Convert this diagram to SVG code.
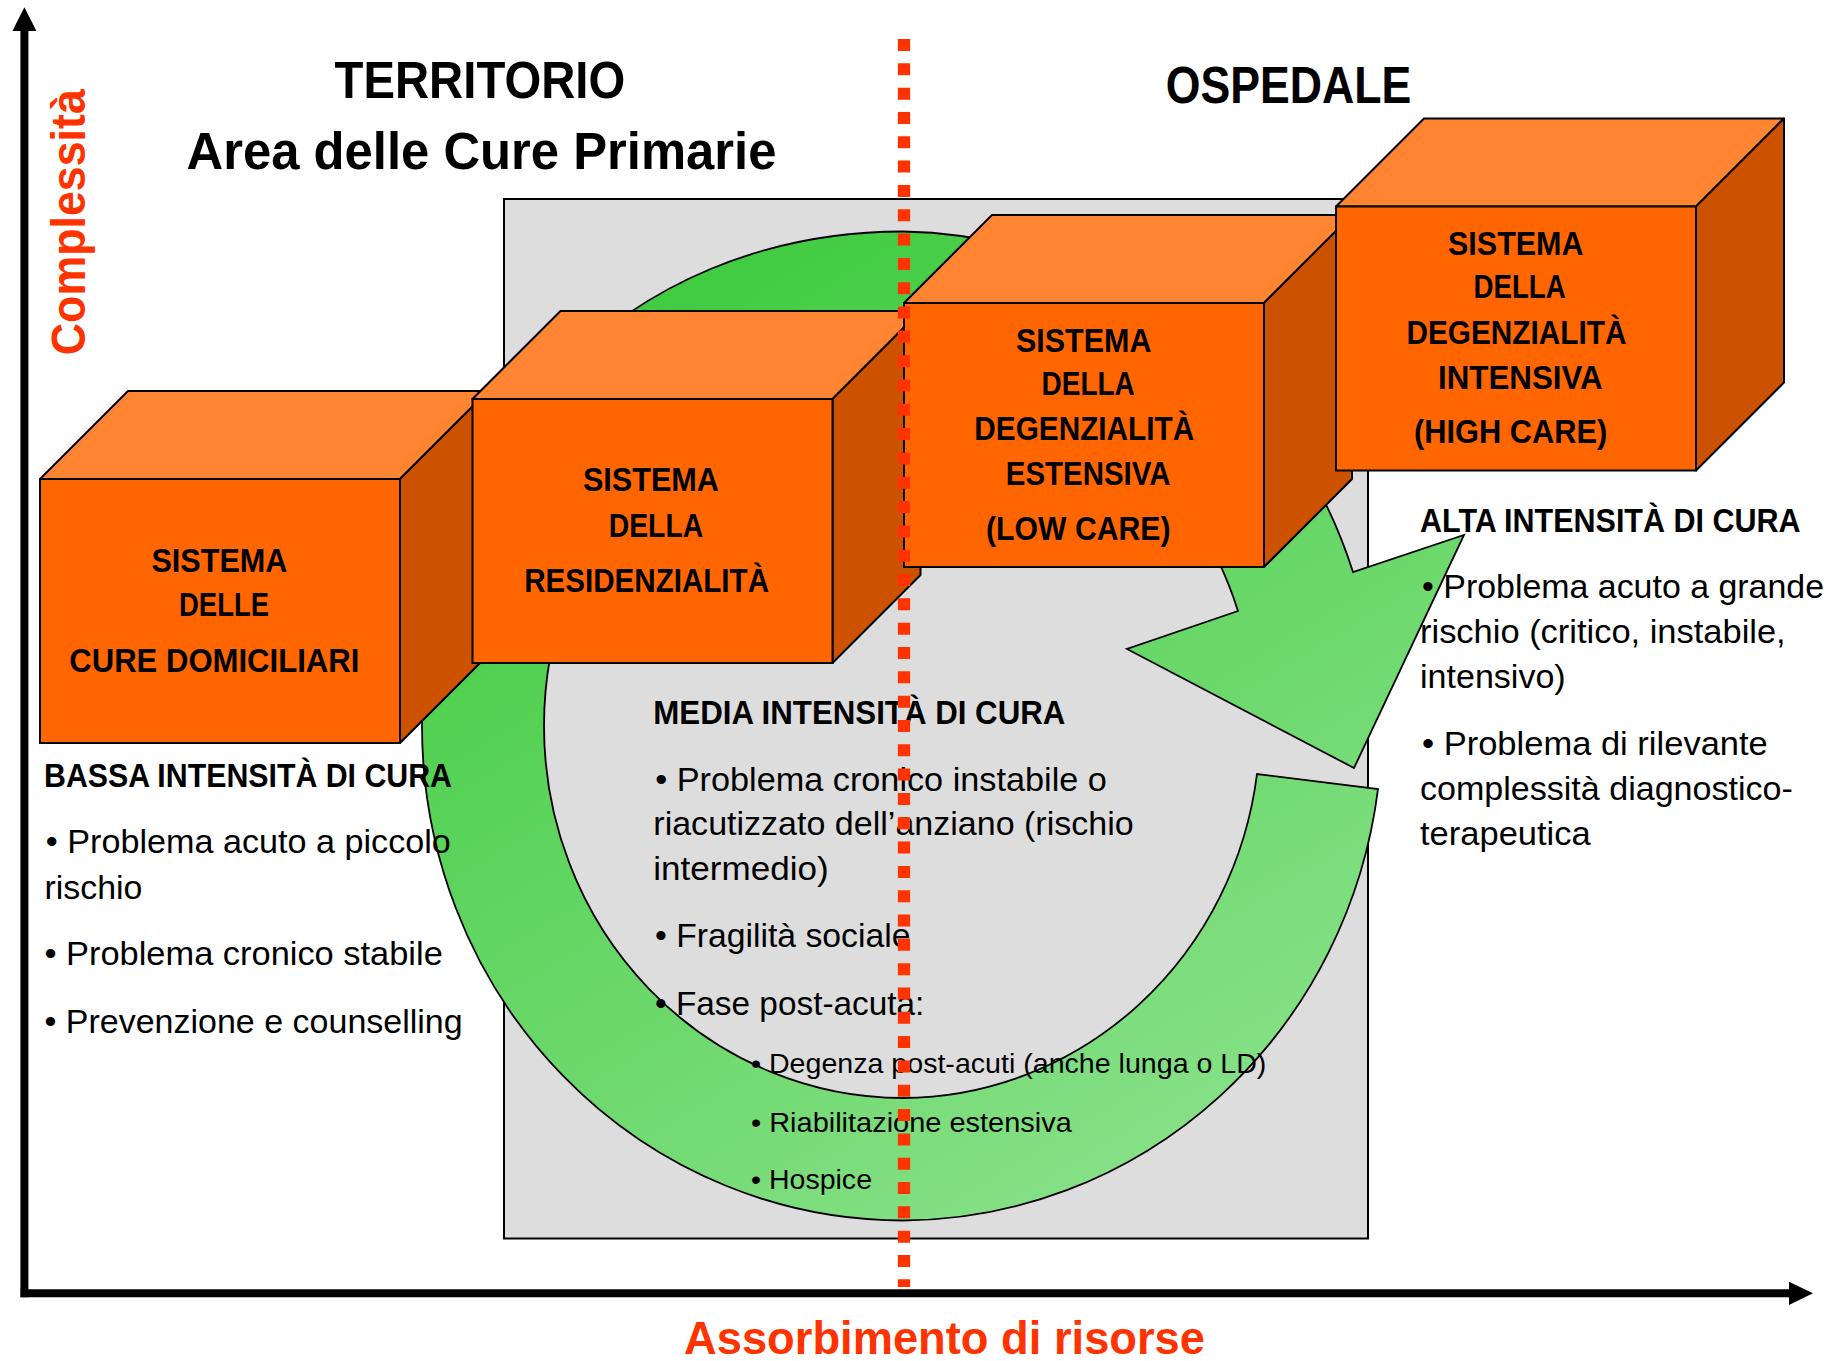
<svg xmlns="http://www.w3.org/2000/svg" width="1832" height="1361" viewBox="0 0 1832 1361">
<defs>
<linearGradient id="gr" gradientUnits="userSpaceOnUse" x1="600" y1="230" x2="1200" y2="1230">
<stop offset="0" stop-color="#3BCA3B"/>
<stop offset="1" stop-color="#8CE28C"/>
</linearGradient>
<style>
text{font-family:'Liberation Sans',Arial,sans-serif;fill:#000}
.b{font-weight:bold;font-size:32.5px}
.r{font-size:32.5px}
.s{font-size:27.5px}
.t{font-weight:bold;font-size:51px}
.red{font-weight:bold;fill:#FF3300}
.front{fill:#FF6600;stroke:#000;stroke-width:2}
.top{fill:#FF8533;stroke:#000;stroke-width:2;stroke-linejoin:round}
.side{fill:#CC5200;stroke:#000;stroke-width:2;stroke-linejoin:round}
.axis{stroke:#000;stroke-width:8;fill:none}
</style>
</defs>
<rect width="1832" height="1361" fill="#fff"/>

<g id="area-box">
<rect x="504" y="199" width="864" height="1039.5" fill="#DDDDDD" stroke="#000" stroke-width="2"/>
</g>

<g id="cycle-arrow">
<path d="M1378,789 A481,494.5 0 0 1 903,1220.5 A481,494.5 0 0 1 422,726 C422,441.7 626.4,231.5 903,231.5 A481,494.5 0 0 1 1353,572 L1464,535 L1354,768 L1127,649 L1238,611 A359,372 0 0 0 903,354 A359,372 0 0 0 544,726 A359,372 0 0 0 903,1098 A359,372 0 0 0 1257,774 Z" fill="url(#gr)" stroke="#000" stroke-width="1.8" stroke-linejoin="miter"/>
</g>

<g id="box-domiciliari">
<polygon class="top" points="40,479 128,391 488,391 400,479"/>
<polygon class="side" points="400,479 488,391 488,655 400,743"/>
<rect class="front" x="40" y="479" width="360" height="264"/>
<text class="b" x="151.4" y="571.7" textLength="136" lengthAdjust="spacingAndGlyphs">SISTEMA</text>
<text class="b" x="179" y="616" textLength="90" lengthAdjust="spacingAndGlyphs">DELLE</text>
<text class="b" x="69.3" y="671.7" textLength="290" lengthAdjust="spacingAndGlyphs">CURE DOMICILIARI</text>
</g>

<g id="box-residenzialita">
<polygon class="top" points="472.5,399 560.5,311 920.5,311 832.5,399"/>
<polygon class="side" points="832.5,399 920.5,311 920.5,575 832.5,663"/>
<rect class="front" x="472.5" y="399" width="360" height="264"/>
<text class="b" x="582.9" y="491" textLength="136" lengthAdjust="spacingAndGlyphs">SISTEMA</text>
<text class="b" x="608.7" y="536.7" textLength="94.5" lengthAdjust="spacingAndGlyphs">DELLA</text>
<text class="b" x="524.2" y="591.7" textLength="244.8" lengthAdjust="spacingAndGlyphs">RESIDENZIALITÀ</text>
</g>

<g id="box-low-care">
<polygon class="top" points="904,303 992,215 1352,215 1264,303"/>
<polygon class="side" points="1264,303 1352,215 1352,479 1264,567"/>
<rect class="front" x="904" y="303" width="360" height="264"/>
<text class="b" x="1016" y="351.8" textLength="135.4" lengthAdjust="spacingAndGlyphs">SISTEMA</text>
<text class="b" x="1041.5" y="394.6" textLength="93.3" lengthAdjust="spacingAndGlyphs">DELLA</text>
<text class="b" x="974.3" y="440" textLength="219.9" lengthAdjust="spacingAndGlyphs">DEGENZIALITÀ</text>
<text class="b" x="1005.8" y="485" textLength="164.7" lengthAdjust="spacingAndGlyphs">ESTENSIVA</text>
<text class="b" x="986" y="540" textLength="184.5" lengthAdjust="spacingAndGlyphs">(LOW CARE)</text>
</g>

<g id="box-high-care">
<polygon class="top" points="1336,206.5 1424,118.5 1784,118.5 1696,206.5"/>
<polygon class="side" points="1696,206.5 1784,118.5 1784,382.5 1696,470.5"/>
<rect class="front" x="1336" y="206.5" width="360" height="264"/>
<text class="b" x="1448" y="255.4" textLength="135.5" lengthAdjust="spacingAndGlyphs">SISTEMA</text>
<text class="b" x="1473.6" y="298.2" textLength="92.1" lengthAdjust="spacingAndGlyphs">DELLA</text>
<text class="b" x="1406.4" y="343.6" textLength="220" lengthAdjust="spacingAndGlyphs">DEGENZIALITÀ</text>
<text class="b" x="1438" y="388.6" textLength="164.6" lengthAdjust="spacingAndGlyphs">INTENSIVA</text>
<text class="b" x="1414" y="442.9" textLength="193.3" lengthAdjust="spacingAndGlyphs">(HIGH CARE)</text>
</g>

<g id="titles">
<text class="t" x="334.6" y="98.3" textLength="290.6" lengthAdjust="spacingAndGlyphs">TERRITORIO</text>
<text class="t" x="186.6" y="169" textLength="589.8" lengthAdjust="spacingAndGlyphs">Area delle Cure Primarie</text>
<text class="t" x="1165.7" y="103" textLength="245.5" lengthAdjust="spacingAndGlyphs">OSPEDALE</text>
</g>

<g id="bassa-intensita">
<text class="b" x="44" y="787.3" textLength="408" lengthAdjust="spacingAndGlyphs">BASSA INTENSITÀ DI CURA</text>
<text class="r" x="45.8" y="853.3" textLength="405" lengthAdjust="spacingAndGlyphs">• Problema acuto a piccolo</text>
<text class="r" x="44.4" y="898.5" textLength="98" lengthAdjust="spacingAndGlyphs">rischio</text>
<text class="r" x="44.4" y="965" textLength="398.4" lengthAdjust="spacingAndGlyphs">• Problema cronico stabile</text>
<text class="r" x="44.4" y="1032.9" textLength="418.3" lengthAdjust="spacingAndGlyphs">• Prevenzione e counselling</text>
</g>

<g id="media-intensita">
<text class="b" x="653.3" y="723.5" textLength="412.1" lengthAdjust="spacingAndGlyphs">MEDIA INTENSITÀ DI CURA</text>
<text class="r" x="655.2" y="790.5" textLength="451.7" lengthAdjust="spacingAndGlyphs">• Problema cronico instabile o</text>
<text class="r" x="653.3" y="835" textLength="480.4" lengthAdjust="spacingAndGlyphs">riacutizzato dell’anziano (rischio</text>
<text class="r" x="653.3" y="880" textLength="175.4" lengthAdjust="spacingAndGlyphs">intermedio)</text>
<text class="r" x="655" y="947" textLength="255.4" lengthAdjust="spacingAndGlyphs">• Fragilità sociale</text>
<text class="r" x="655" y="1015" textLength="269.4" lengthAdjust="spacingAndGlyphs">• Fase post-acuta:</text>
<text class="s" x="751" y="1073.3" textLength="515.4" lengthAdjust="spacingAndGlyphs">• Degenza post-acuti (anche lunga o LD)</text>
<text class="s" x="751" y="1131.8" textLength="320.8" lengthAdjust="spacingAndGlyphs">• Riabilitazione estensiva</text>
<text class="s" x="751" y="1188.7" textLength="121" lengthAdjust="spacingAndGlyphs">• Hospice</text>
</g>

<g id="alta-intensita">
<text class="b" x="1420" y="531.7" textLength="380.5" lengthAdjust="spacingAndGlyphs">ALTA INTENSITÀ DI CURA</text>
<text class="r" x="1422" y="597.7" textLength="402" lengthAdjust="spacingAndGlyphs">• Problema acuto a grande</text>
<text class="r" x="1420" y="643.3" textLength="365.7" lengthAdjust="spacingAndGlyphs">rischio (critico, instabile,</text>
<text class="r" x="1420" y="687.7" textLength="145.7" lengthAdjust="spacingAndGlyphs">intensivo)</text>
<text class="r" x="1422" y="755" textLength="345.8" lengthAdjust="spacingAndGlyphs">• Problema di rilevante</text>
<text class="r" x="1420" y="800" textLength="372.8" lengthAdjust="spacingAndGlyphs">complessità diagnostico-</text>
<text class="r" x="1420" y="845" textLength="170.7" lengthAdjust="spacingAndGlyphs">terapeutica</text>
</g>

<g id="axis-labels">
<text class="red" font-size="49" transform="translate(85,222.2) rotate(-90)" x="0" y="0" text-anchor="middle" textLength="266" lengthAdjust="spacingAndGlyphs">Complessità</text>
<text class="red" font-size="47" x="684" y="1354" textLength="521" lengthAdjust="spacingAndGlyphs">Assorbimento di risorse</text>
</g>

<g id="connectors">
<line class="axis" x1="24.4" y1="28" x2="24.4" y2="1297.3" stroke-width="7.6"/>
<polygon points="12.4,31 24.4,7.3 36.4,31" fill="#000"/>
<line class="axis" x1="20.6" y1="1293.3" x2="1792" y2="1293.3"/>
<polygon points="1789,1281.7 1813,1293.3 1789,1305" fill="#000"/>
</g>

<g id="divider">
<line x1="904" y1="39" x2="904" y2="1287" stroke="#FF3300" stroke-width="12.3" stroke-dasharray="12 12.32"/>
</g>
</svg>
